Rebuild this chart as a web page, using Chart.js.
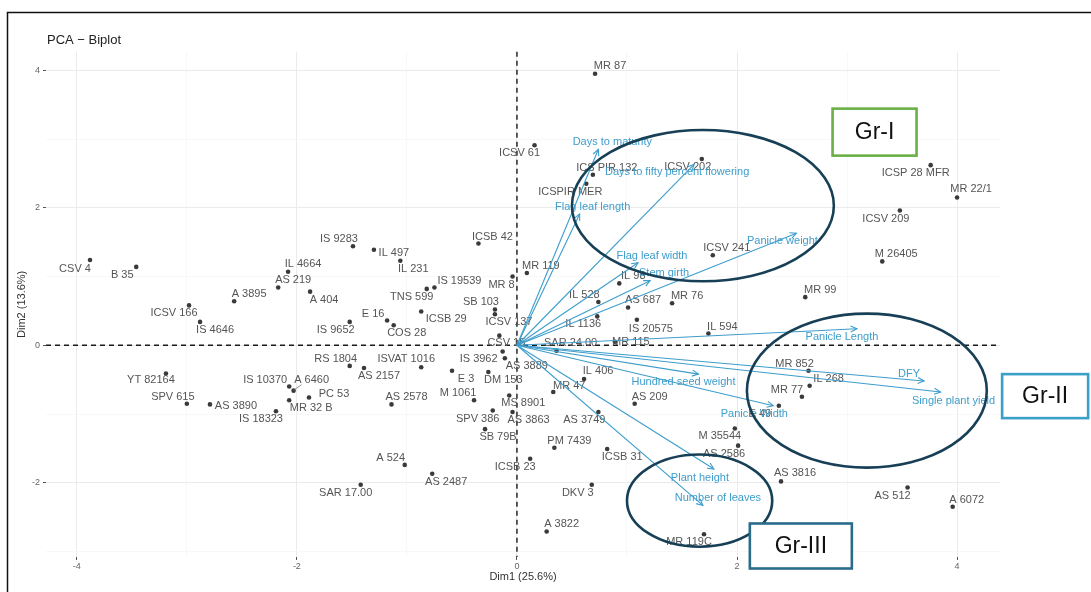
<!DOCTYPE html>
<html>
<head>
<meta charset="utf-8">
<script src="https://cdn.jsdelivr.net/npm/chart.js@4.4.0/dist/chart.umd.min.js"></script>
<style>
  html, body { margin: 0; padding: 0; background: #ffffff; }
  #wrap { width: 1091px; height: 592px; position: relative; }
</style>
</head>
<body>
<div id="wrap"><canvas id="biplot" width="1091" height="592"></canvas></div>
<script>
// ---- Individuals (genotypes): scores on the first two principal components ----
const genotypes = [
  'CSV 4','B 35','IS 9283','IL 497','IL 4664','AS 219','A 404','A 3895','ICSV 166','IS 4646',
  'IS 9652','IL 231','TNS 599','IS 19539','ICSB 42','MR 8','MR 119','SB 103','ICSV 137','E 16',
  'COS 28','ICSB 29','CSV 15','IS 3962','AS 3889','E 3','DM 153','ISVAT 1016','RS 1804','AS 2157',
  'IS 10370','A 6460','PC 53','MR 32 B','AS 3890','IS 18323','AS 2578','M 1061','SPV 386','SB 79B',
  'MS 8901','AS 3863','A 524','AS 2487','SAR 17.00','ICSB 23','SPV 615','YT 82164','MR 87','ICSV 61',
  'ICS PIR 132','ICSPIR MER','ICSV 202','ICSV 241','IL 98','IL 528','AS 687','MR 76','IL 1136','IS 20575',
  'IL 594','MR 115','SAR 24.00','IL 406','MR 47','AS 209','AS 3749','PM 7439','ICSB 31','DKV 3',
  'A 3822','MR 119C','M 35544','AS 2586','ICSP 28 MFR','MR 22/1','ICSV 209','M 26405','MR 99','MR 852',
  'IL 268','MR 77','E 49','AS 3816','AS 512','A 6072'
];
const dim1 = [
  -3.88,-3.46,-1.49,-1.30,-2.08,-2.17,-1.88,-2.57,-2.98,-2.88,
  -1.52,-1.06,-0.82,-0.75,-0.35,-0.04, 0.09,-0.20,-0.20,-1.18,
  -1.12,-0.87,-0.16,-0.13,-0.11,-0.59,-0.26,-0.87,-1.52,-1.39,
  -2.07,-2.03,-1.89,-2.07,-2.79,-2.19,-1.14,-0.39,-0.22,-0.29,
  -0.07,-0.04,-1.02,-0.77,-1.42, 0.12,-3.00,-3.19, 0.71, 0.16,
   0.69, 0.63, 1.68, 1.78, 0.93, 0.74, 1.01, 1.41, 0.73, 1.09,
   1.74, 0.89, 0.36, 0.61, 0.33, 1.07, 0.74, 0.34, 0.82, 0.68,
   0.27, 1.70, 1.98, 2.01, 3.76, 4.00, 3.48, 3.32, 2.62, 2.65,
   2.66, 2.59, 2.38, 2.40, 3.55, 3.96
];
const dim2 = [
   1.24, 1.14, 1.44, 1.39, 1.07, 0.84, 0.78, 0.64, 0.58, 0.34,
   0.34, 1.23, 0.82, 0.84, 1.48, 1.00, 1.05, 0.52, 0.45, 0.36,
   0.29, 0.49, 0.14,-0.09,-0.19,-0.37,-0.39,-0.32,-0.30,-0.33,
  -0.60,-0.66,-0.76,-0.80,-0.86,-0.96,-0.86,-0.80,-0.95,-1.22,
  -0.73,-0.97,-1.74,-1.87,-2.03,-1.65,-0.85,-0.41, 3.95, 2.91,
   2.48, 2.35, 2.71, 1.31, 0.90, 0.63, 0.55, 0.61, 0.42, 0.37,
   0.17, 0.05,-0.08,-0.49,-0.68,-0.85,-0.97,-1.49,-1.51,-2.03,
  -2.71,-2.75,-1.21,-1.46, 2.62, 2.15, 1.96, 1.22, 0.70,-0.37,
  -0.59,-0.75,-0.88,-1.98,-2.07,-2.35
];

// ---- Variables (traits): loadings drawn as arrows from the origin ----
const traits = [
  'Days to maturity','Flag leaf length','Days to fifty percent flowering','Panicle weight',
  'Flag leaf width','Stem girth','Panicle Length','DFY','Single plant yield',
  'Hundred seed weight','Panicle Width','Plant height','Number of leaves'
];
const traitDim1 = [0.74, 0.57, 1.61, 2.54, 1.10, 1.21, 3.09, 3.70, 3.85, 1.65, 2.33, 1.79, 1.69];
const traitDim2 = [2.85, 1.91, 2.63, 1.63, 1.20, 0.94, 0.24,-0.52,-0.68,-0.42,-0.88,-1.80,-2.33];

// ---- Axis ticks ----
const xTickLabels = [-4, -2, 0, 2, 4];
const yTickLabels = [-2, 0, 2, 4];

// ---- Cluster annotations ----
const groupNames = ['Gr-I', 'Gr-II', 'Gr-III'];

// ---------------- layout / styling ----------------
const X_MIN = -4.28, X_MAX = 4.39, Y_MIN = -3.08, Y_MAX = 4.27;
const FONT = "'Liberation Sans', Arial, Helvetica, sans-serif";
const VAR_COLOR = '#3d9dcc';
const IND_COLOR = '#3a3a3a';
const LABEL_COLOR = '#555555';

// text offsets (px) of each genotype label from its point
const genoNudge = [
  [-15,9],[-14,8],[-14,-7],[20,3],[15,-8],[15,-8],[14,8],[15,-7],[-15,8],[15,8],
  [-14,8],[13,8],[-15,8],[25,-7],[14,-7],[-11,8],[14,-7],[-14,-8],[14,8],[-14,-7],
  [13,8],[25,7],[7,7],[-24,8],[22,8],[14,8],[15,8],[-15,-8],[-14,-7],[15,8],
  [-24,-7],[18,-11],[25,-4],[22,8],[26,2],[-15,8],[15,-7],[-16,-7],[-15,8],[13,8],
  [14,8],[16,8],[-14,-7],[14,8],[-15,8],[-15,8],[-14,-7],[-15,7],[15,-8],[-15,8],
  [14,-7],[-16,8],[-14,8],[14,-7],[14,-7],[-14,-7],[15,-7],[15,-7],[-14,8],[14,9],
  [14,-7],[16,0],[14,-8],[14,-8],[16,-6],[15,-7],[-14,8],[15,-7],[15,8],[-14,8],
  [15,-8],[-15,8],[-15,8],[-14,8],[-15,8],[14,-8],[-14,8],[14,-7],[15,-7],[-14,-7],
  [19,-7],[-15,-7],[-19,8],[14,-8],[-15,8],[14,-7]
];
// text offsets (px) of each trait label from its arrow tip
const traitNudge = [
  [14,-7],[13,-7],[-17,8],[-14,8],[14,-7],[14,-8],[-15,8],[-15,-7],[13,9],
  [-15,8],[-19,8],[-14,9],[15,-7]
];
// ellipses in data units: [cx, cy, rx, ry]
const ellipses = [[1.69, 2.03, 1.19, 1.10], [3.18, -0.66, 1.09, 1.12], [1.66, -2.26, 0.66, 0.67]];
// label boxes in data units: [cx, cy, widthPx, heightPx, color]
const boxes = [
  [3.25, 3.10, 84, 47, '#6aaf48'],
  [4.80, -0.74, 86, 44, '#3a9fc9'],
  [2.58, -2.92, 102, 45, '#2a6c8a']
];

const isMajor = v => Math.abs(v % 2) < 1e-9;

const indData = genotypes.map((g, i) => ({ x: dim1[i], y: dim2[i] }));
const arrowSets = traits.map((t, i) => ({
  type: 'line',
  label: t,
  data: [{ x: 0, y: 0 }, { x: traitDim1[i], y: traitDim2[i] }],
  borderColor: VAR_COLOR,
  borderWidth: 1.1,
  pointRadius: 0,
  fill: false,
  tension: 0,
  order: 1
}));

const biplotDecor = {
  id: 'biplotDecor',
  beforeDatasetsDraw(chart) {
    const { ctx, chartArea: a, scales: { x, y } } = chart;
    const x0 = x.getPixelForValue(0), y0 = y.getPixelForValue(0);
    ctx.save();
    ctx.strokeStyle = '#1a1a1a';
    ctx.lineWidth = 1.4;
    ctx.setLineDash([5, 4]);
    ctx.beginPath();
    ctx.moveTo(a.left, y0); ctx.lineTo(a.right, y0);
    ctx.moveTo(x0, a.top); ctx.lineTo(x0, a.bottom);
    ctx.stroke();
    ctx.restore();
  },
  afterDatasetDraw(chart, args) {
    if (args.index !== 0) return;
    const { ctx } = chart;
    const pts = args.meta.data;
    ctx.save();
    ctx.font = '11px ' + FONT;
    ctx.fillStyle = LABEL_COLOR;
    ctx.textAlign = 'center';
    ctx.textBaseline = 'middle';
    pts.forEach((p, i) => {
      const [dx, dy] = genoNudge[i];
      ctx.fillText(genotypes[i], p.x + dx, p.y + dy);
    });
    // short leader for the displaced A 6460 label
    const k = genotypes.indexOf('A 6460');
    if (k >= 0) {
      const p = pts[k];
      ctx.strokeStyle = '#777';
      ctx.lineWidth = 0.8;
      ctx.beginPath();
      ctx.moveTo(p.x + 1, p.y - 1);
      ctx.lineTo(p.x + 8, p.y - 6);
      ctx.stroke();
    }
    ctx.restore();
  },
  afterDatasetsDraw(chart) {
    const { ctx, scales: { x, y } } = chart;
    const x0 = x.getPixelForValue(0), y0 = y.getPixelForValue(0);
    ctx.save();
    // arrow heads
    ctx.strokeStyle = VAR_COLOR;
    ctx.lineWidth = 1.1;
    traits.forEach((t, i) => {
      const tx = x.getPixelForValue(traitDim1[i]);
      const ty = y.getPixelForValue(traitDim2[i]);
      const ang = Math.atan2(ty - y0, tx - x0);
      const L = 7, w = Math.PI / 7;
      ctx.beginPath();
      ctx.moveTo(tx - L * Math.cos(ang - w), ty - L * Math.sin(ang - w));
      ctx.lineTo(tx, ty);
      ctx.lineTo(tx - L * Math.cos(ang + w), ty - L * Math.sin(ang + w));
      ctx.stroke();
    });
    // trait labels
    ctx.font = '11px ' + FONT;
    ctx.fillStyle = VAR_COLOR;
    ctx.textAlign = 'center';
    ctx.textBaseline = 'middle';
    traits.forEach((t, i) => {
      const tx = x.getPixelForValue(traitDim1[i]);
      const ty = y.getPixelForValue(traitDim2[i]);
      ctx.fillText(t, tx + traitNudge[i][0], ty + traitNudge[i][1]);
    });
    // cluster ellipses
    ctx.strokeStyle = '#173f55';
    ctx.lineWidth = 2.6;
    ellipses.forEach(([cx, cy, rx, ry]) => {
      const px = x.getPixelForValue(cx), py = y.getPixelForValue(cy);
      const prx = Math.abs(x.getPixelForValue(cx + rx) - px);
      const pry = Math.abs(y.getPixelForValue(cy + ry) - py);
      ctx.beginPath();
      ctx.ellipse(px, py, prx, pry, 0, 0, Math.PI * 2);
      ctx.stroke();
    });
    // group boxes
    boxes.forEach(([cx, cy, w, h, col], i) => {
      const px = x.getPixelForValue(cx), py = y.getPixelForValue(cy);
      ctx.fillStyle = '#ffffff';
      ctx.fillRect(px - w / 2, py - h / 2, w, h);
      ctx.strokeStyle = col;
      ctx.lineWidth = 2.6;
      ctx.strokeRect(px - w / 2, py - h / 2, w, h);
      ctx.fillStyle = '#111111';
      ctx.font = '23px ' + FONT;
      ctx.fillText(groupNames[i], px, py + 1);
    });
    ctx.restore();
  },
  afterDraw(chart) {
    const { ctx } = chart;
    ctx.save();
    ctx.fillStyle = '#222222';
    ctx.font = '13px ' + FONT;
    ctx.textAlign = 'left';
    ctx.textBaseline = 'middle';
    ctx.fillText('PCA \u2212 Biplot', 47, 40);
    ctx.strokeStyle = '#111111';
    ctx.lineWidth = 1.5;
    ctx.beginPath();
    ctx.moveTo(7.5, 592); ctx.lineTo(7.5, 12.5); ctx.lineTo(1091, 12.5);
    ctx.stroke();
    ctx.restore();
  }
};

const gridColor = ctx => isMajor(ctx.tick.value) ? '#ebebeb' : '#f5f5f5';
const gridWidth = ctx => isMajor(ctx.tick.value) ? 1 : 0.7;
const tickColor = ctx => isMajor(ctx.tick.value) ? '#555555' : 'rgba(0,0,0,0)';

new Chart(document.getElementById('biplot'), {
  type: 'scatter',
  data: {
    datasets: [
      {
        label: 'Individuals',
        data: indData,
        pointRadius: 2.3,
        pointBackgroundColor: IND_COLOR,
        pointBorderWidth: 0,
        showLine: false,
        order: 2
      },
      ...arrowSets
    ]
  },
  options: {
    responsive: false,
    animation: false,
    devicePixelRatio: 1,
    layout: { padding: { left: 0, top: 51.7, right: 91, bottom: 0 } },
    plugins: { legend: { display: false }, tooltip: { enabled: false }, title: { display: false } },
    scales: {
      x: {
        type: 'linear',
        min: X_MIN, max: X_MAX,
        afterFit(s) { s.height = 35; },
        afterBuildTicks(s) {
          const t = [];
          for (let v = -4; v <= 4; v++) t.push({ value: v });
          s.ticks = t;
        },
        ticks: {
          autoSkip: false, maxRotation: 0, padding: 1,
          color: '#666666', font: { size: 9, family: FONT },
          callback: v => xTickLabels.includes(v) ? String(v) : ''
        },
        grid: { color: gridColor, lineWidth: gridWidth, tickColor: tickColor, tickLength: 3, tickWidth: 1 },
        border: { display: false },
        title: {
          display: true, text: 'Dim1 (25.6%)', color: '#333333',
          font: { size: 11, family: FONT }, padding: { top: 0, bottom: 8.4 }
        }
      },
      y: {
        type: 'linear',
        min: Y_MIN, max: Y_MAX,
        afterFit(s) { s.width = 46; },
        afterBuildTicks(s) {
          const t = [];
          for (let v = -3; v <= 4; v++) t.push({ value: v });
          s.ticks = t;
        },
        ticks: {
          autoSkip: false, padding: 3,
          color: '#666666', font: { size: 9, family: FONT },
          callback: v => yTickLabels.includes(v) ? String(v) : ''
        },
        grid: { color: gridColor, lineWidth: gridWidth, tickColor: tickColor, tickLength: 3, tickWidth: 1 },
        border: { display: false },
        title: {
          display: true, text: 'Dim2 (13.6%)', color: '#333333',
          font: { size: 11, family: FONT }, padding: { top: 15.4, bottom: 0 }
        }
      }
    }
  },
  plugins: [biplotDecor]
});
</script>
</body>
</html>
